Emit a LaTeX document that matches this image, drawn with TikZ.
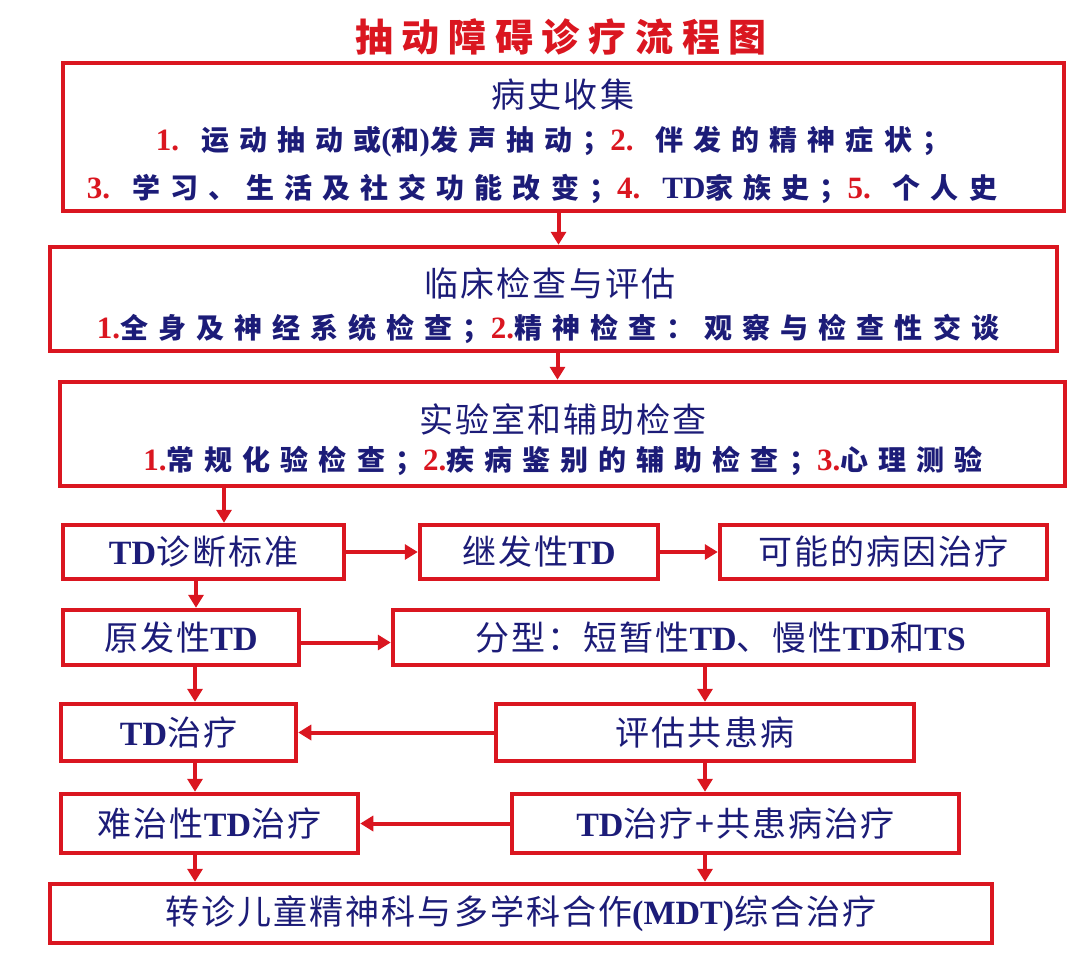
\documentclass[tikz,border=0pt]{standalone}
\usepackage{fontspec}
\usepackage{xcolor}
\setmainfont{Liberation Serif}
\newfontfamily\cjkbox[LetterSpace=6]{Noto Sans CJK SC}
\newfontfamily\cjkitem[LetterSpace=36]{Noto Sans CJK SC}
\newfontfamily\cjktitle[LetterSpace=23]{Noto Sans CJK SC}
\usetikzlibrary{arrows.meta}
\definecolor{tdred}{RGB}{218,22,32}
\definecolor{tdblue}{RGB}{28,28,120}
\newcommand{\num}[1]{{\rmfamily\bfseries\fontsize{31}{34}\selectfont\color{tdred}#1}}
\newcommand{\biglat}[1]{{\rmfamily\bfseries\fontsize{31}{34}\selectfont #1}}
\newcommand{\lat}[1]{{\rmfamily\bfseries #1}}
\newcommand{\boxfont}{\cjkbox\fontsize{34}{40}\selectfont}
\newcommand{\itemfont}{\cjkitem\bfseries\fontsize{28}{32}\selectfont}
\newcommand{\titlefont}{\cjktitle\bfseries\fontsize{38}{44}\selectfont}
\begin{document}
\begin{tikzpicture}[x=1pt,y=-1pt,
  box/.style={draw=tdred,line width=4.5pt,fill=white,inner sep=0pt,text=tdblue,font=\boxfont},
  txt/.style={text=tdblue,inner sep=0pt},
  arr/.style={draw=tdred,line width=4pt,-{Triangle[length=13pt,width=15pt]}}]
%%Frame
\useasboundingbox[fill=white] (0,0) rectangle (1080,959);
%%Title
\node[text=tdred,font=\titlefont] (title) at (561,37) {抽动障碍诊疗流程图};
%%Upper boxes
\node[box,minimum width=1001pt,minimum height=148pt] (hist) at (563.5,137) {};
\node[box,minimum width=1007pt,minimum height=104pt] (clin) at (553.5,299) {};
\node[box,minimum width=1005pt,minimum height=104pt] (lab) at (562.5,434) {};
\node[txt,font=\boxfont] (histhead) at (563,95) {病史收集};
\node[txt,font=\itemfont] (histone) at (553,142) {\num{1.} 运动抽动或\biglat{(}和\biglat{)}发声抽动；\num{2.} 伴发的精神症状；};
\node[txt,font=\itemfont] (histtwo) at (542,189) {\num{3.} 学习、生活及社交功能改变；\num{4.} \biglat{TD}家族史；\num{5.} 个人史};
\node[txt,font=\boxfont] (clinhead) at (550,283) {临床检查与评估};
\node[txt,font=\itemfont] (clinone) at (548,329) {\num{1.}全身及神经系统检查；\num{2.}精神检查：观察与检查性交谈};
\node[txt,font=\boxfont] (labhead) at (563,419) {实验室和辅助检查};
\node[txt,font=\itemfont] (labone) at (563,461) {\num{1.}常规化验检查；\num{2.}疾病鉴别的辅助检查；\num{3.}心理测验};
%%Lower boxes
\node[box,minimum width=281pt,minimum height=54pt] (diag) at (203.5,552) {\lat{TD}诊断标准};
\node[box,minimum width=238pt,minimum height=54pt] (sec) at (539,552) {继发性\lat{TD}};
\node[box,minimum width=327pt,minimum height=54pt] (cause) at (883.5,552) {可能的病因治疗};
\node[box,minimum width=236pt,minimum height=55pt] (prim) at (181,637.5) {原发性\lat{TD}};
\node[box,minimum width=655pt,minimum height=55pt] (type) at (720.5,637.5) {分型：短暂性\lat{TD}、慢性\lat{TD}和\lat{TS}};
\node[box,minimum width=235pt,minimum height=57pt] (tdt) at (178.5,732.5) {\lat{TD}治疗};
\node[box,minimum width=418pt,minimum height=57pt] (eval) at (705,732.5) {评估共患病};
\node[box,minimum width=297pt,minimum height=59pt] (hard) at (209.5,823.5) {难治性\lat{TD}治疗};
\node[box,minimum width=447pt,minimum height=59pt] (comb) at (735.5,823.5) {\lat{TD}治疗+共患病治疗};
\node[box,minimum width=942pt,minimum height=59pt] (refer) at (521,913.5) {转诊儿童精神科与多学科合作\lat{(MDT)}综合治疗};
%%Arrows
\draw[arr] ([xshift=-5pt]hist.south) -- ([xshift=-5pt]hist.south |- clin.north);
\draw[arr] ([xshift=4pt]clin.south) -- ([xshift=4pt]clin.south |- lab.north);
\draw[arr] ([xshift=20.5pt]diag.north |- lab.south) -- ([xshift=20.5pt]diag.north);
\draw[arr] (diag.east) -- (sec.west);
\draw[arr] (sec.east) -- (cause.west);
\draw[arr] ([xshift=15pt]prim.north |- diag.south) -- ([xshift=15pt]prim.north);
\draw[arr] ([yshift=-5pt]prim.east) -- ([yshift=-5pt]prim.east -| type.west);
\draw[arr] (eval.north |- type.south) -- (eval.north);
\draw[arr] ([xshift=16.5pt]tdt.north |- prim.south) -- ([xshift=16.5pt]tdt.north);
\draw[arr] (eval.west) -- (tdt.east);
\draw[arr] ([xshift=-14.5pt]hard.north |- tdt.south) -- ([xshift=-14.5pt]hard.north);
\draw[arr] (eval.south) -- (eval.south |- comb.north);
\draw[arr] (comb.west) -- (hard.east);
\draw[arr] ([xshift=-14.5pt]hard.south) -- ([xshift=-14.5pt]hard.south |- refer.north);
\draw[arr] (eval.south |- comb.south) -- (eval.south |- refer.north);
\end{tikzpicture}
\end{document}
